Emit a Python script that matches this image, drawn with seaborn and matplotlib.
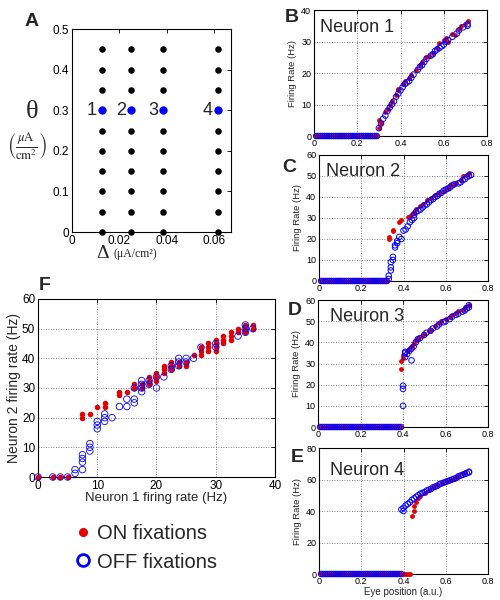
import matplotlib
matplotlib.use("Agg")
import matplotlib.pyplot as plt
from matplotlib.lines import Line2D
import seaborn as sns
import pandas as pd

sns.set_style("white")
plt.rcParams["font.family"] = ["Liberation Sans", "DejaVu Sans"]
plt.rcParams["mathtext.fontset"] = "stix"

RED = "#e50000"
BLUE = "#0000ff"

# ---- panel A: parameter grid (Delta, theta)
grid_delta = [0.0125, 0.025, 0.0385, 0.0615]
grid_theta = [0.0, 0.05, 0.1, 0.15, 0.2, 0.25, 0.35, 0.4, 0.45]
chosen_theta = 0.3
chosen_names = ["1", "2", "3", "4"]

# ---- panels B-E: firing rate vs eye position
zero_pos = [0.01, 0.02, 0.03, 0.04, 0.05, 0.06, 0.07, 0.08, 0.09, 0.10,
            0.11, 0.12, 0.13, 0.14, 0.15, 0.16, 0.17, 0.18, 0.19, 0.20,
            0.21, 0.22, 0.23, 0.24, 0.25, 0.26, 0.27, 0.28, 0.29, 0.30,
            0.31, 0.32, 0.33, 0.34, 0.35, 0.36, 0.37, 0.38, 0.39, 0.40,
            0.41, 0.42, 0.43]

n1_on_zero_end, n1_off_zero_end = 0.29, 0.29
n1_on_x = [0.30, 0.30, 0.31, 0.33, 0.34, 0.35, 0.36, 0.38, 0.39, 0.39, 0.41, 0.42, 0.44, 0.45,
           0.47, 0.49, 0.50, 0.52, 0.53, 0.55, 0.57, 0.58, 0.60, 0.61, 0.62, 0.64, 0.65, 0.67,
           0.68, 0.70, 0.71]
n1_on_y = [2.5, 5, 4, 7.5, 8.5, 10, 11, 13, 14.5, 15, 16.5, 17.5, 18.5, 19.5,
           21, 22.5, 23.5, 25, 25.5, 26.5, 28, 29.5, 30.5, 31, 30, 32.5, 32, 34,
           35, 35.5, 36.5]
n1_off_x = [0.30, 0.31, 0.32, 0.33, 0.34, 0.35, 0.36, 0.37, 0.38, 0.39, 0.40, 0.41, 0.42, 0.43,
            0.44, 0.45, 0.46, 0.48, 0.49, 0.50, 0.51, 0.52, 0.54, 0.55, 0.56, 0.57, 0.58, 0.59,
            0.60, 0.61, 0.62, 0.64, 0.66, 0.67, 0.69, 0.71, 0.71]
n1_off_y = [2.5, 4, 5.5, 6.5, 8, 9, 10, 11, 12.5, 13.5, 14.5, 15.5, 16.5, 17,
            17.5, 18.5, 19.5, 21, 22, 22.5, 23.5, 24.5, 25.5, 26, 27, 27.5, 28, 28.5,
            29, 30, 30.5, 31.5, 32.5, 33.5, 34.5, 35, 35.5]

n2_on_zero_end, n2_off_zero_end = 0.32, 0.32
n2_on_x = [0.33, 0.33, 0.35, 0.35, 0.38, 0.39, 0.42, 0.43, 0.44, 0.45, 0.46, 0.48, 0.49,
           0.51, 0.53, 0.55, 0.57, 0.59, 0.61, 0.62, 0.64, 0.65, 0.67, 0.68, 0.70, 0.71]
n2_on_y = [20, 21, 24, 24.5, 28, 29, 30.5, 31, 32, 33, 34.5, 35.5, 36.5,
           38.5, 39.5, 41, 42, 43, 44.5, 45.5, 46, 46.5, 48, 50, 50.5, 51.5]
n2_off_x = [0.33, 0.33, 0.34, 0.34, 0.34, 0.35, 0.35, 0.36, 0.36, 0.37, 0.37, 0.38, 0.39,
            0.40, 0.41, 0.42, 0.43, 0.44, 0.45, 0.45, 0.46, 0.47, 0.48, 0.49, 0.50, 0.51,
            0.52, 0.53, 0.54, 0.55, 0.56, 0.57, 0.58, 0.59, 0.60, 0.61, 0.62, 0.63, 0.64,
            0.66, 0.67, 0.68, 0.69, 0.70, 0.71, 0.72]
n2_off_y = [1, 2.5, 5, 6.5, 9, 10, 11.5, 16, 17, 18, 19, 21, 20,
            24, 24.5, 26, 28, 29, 30, 31.5, 33, 33.5, 34, 35, 36, 36.5,
            37.5, 38.5, 39, 40, 40.5, 41.5, 42, 43, 43.5, 44, 44.5, 45.5, 46,
            46.5, 47, 48, 48.5, 49.5, 50, 50.5]

n3_on_zero_end, n3_off_zero_end = 0.39, 0.39
n3_on_x = [0.39, 0.39, 0.40, 0.40, 0.42, 0.43, 0.44, 0.45, 0.46, 0.47, 0.49, 0.50, 0.52,
           0.53, 0.55, 0.57, 0.58, 0.60, 0.62, 0.63, 0.65, 0.66, 0.68, 0.69, 0.71]
n3_on_y = [27.5, 31, 32.5, 34, 36, 37, 38.5, 39.5, 41, 42, 43, 44, 45.5,
           46, 47.5, 49, 50, 51, 52, 53, 54, 55, 55.5, 56.5, 57.5]
n3_off_x = [0.40, 0.40, 0.40, 0.41, 0.41, 0.41, 0.42, 0.43, 0.44, 0.44, 0.45, 0.46, 0.47,
            0.48, 0.50, 0.51, 0.53, 0.54, 0.56, 0.57, 0.59, 0.60, 0.62, 0.63, 0.65, 0.66,
            0.68, 0.69, 0.70, 0.71, 0.71]
n3_off_y = [10, 18, 19.5, 33, 35, 35.5, 34.5, 36, 31.5, 37, 38, 40, 41.5,
            42, 43.5, 44.5, 45.5, 46.5, 47.5, 48.5, 49.5, 50, 51, 52, 53, 53.5,
            54.5, 55, 56, 56.5, 57.5]

n4_on_zero_end, n4_off_zero_end = 0.43, 0.39
n4_on_x = [0.44, 0.45, 0.45, 0.46, 0.47, 0.48, 0.50, 0.52, 0.54, 0.56, 0.58, 0.60, 0.62,
           0.64, 0.65, 0.66, 0.68, 0.69]
n4_on_y = [37, 40, 43, 46, 48, 49.5, 51.5, 53.5, 55, 56.5, 58, 59, 60,
           60.5, 61, 62, 64, 64.5]
n4_off_x = [0.39, 0.40, 0.40, 0.41, 0.42, 0.43, 0.44, 0.45, 0.46, 0.47, 0.48, 0.49, 0.50,
            0.51, 0.52, 0.53, 0.54, 0.55, 0.56, 0.57, 0.58, 0.59, 0.60, 0.61, 0.62, 0.63,
            0.64, 0.65, 0.66, 0.67, 0.68, 0.69, 0.70, 0.71, 0.71]
n4_off_y = [41, 40, 42, 43.5, 44.5, 45.5, 47, 48, 49, 50, 51, 51.5, 52,
            53, 53.5, 54, 55, 55.5, 56, 57, 57.5, 58, 58.5, 59, 59.5, 60,
            60.5, 61, 62, 62.5, 63, 63.5, 64, 64.5, 65]

# ---- panel F: neuron 2 vs neuron 1 firing rate
f_on_n1 = [0, 2.5, 3.75, 5, 7.5, 7.5, 8.75, 10, 11.25, 11.25, 13.75, 13.75, 15, 16.25, 16.25,
           17.5, 17.5, 18.75, 18.75, 18.75, 20, 20, 20, 21.25, 21.25, 21.25, 22.5, 22.5, 22.5,
           23.75, 23.75, 25, 25, 26.25, 27.5, 27.5, 27.5, 28.75, 28.75, 28.75, 30, 30, 30, 30,
           31.25, 31.25, 31.25, 32.5, 32.5, 32.5, 33.75, 33.75, 35, 35, 35, 36.25, 36.25]
f_on_n2 = [0, 0, 0, 0, 20, 21.25, 21.25, 23.75, 25, 23.75, 28.75, 27.5, 28.75, 31.25, 30,
           31.25, 30, 33.75, 32.5, 31.25, 35, 33.75, 32.5, 37.5, 36.25, 35, 38.75, 37.5, 36.25,
           38.75, 37.5, 38.75, 37.5, 41.25, 43.75, 42.5, 41.25, 45, 43.75, 42.5, 46.25, 45, 43.75, 42.5,
           47.5, 46.25, 45, 48.75, 47.5, 46.25, 50, 48.75, 51.25, 50, 48.75, 51.25, 50]
f_off_n1 = [0, 2.5, 3.75, 5, 6.25, 6.25, 7.5, 7.5, 7.5, 7.5, 8.75, 8.75, 8.75, 10, 10, 10,
            11.25, 11.25, 11.25, 12.5, 13.75, 15, 15, 16.25, 16.25, 16.25, 17.5, 17.5, 17.5, 17.5,
            18.75, 18.75, 20, 20, 21.25, 22.5, 22.5, 23.75, 23.75, 23.75, 25, 25, 26.25, 27.5,
            30, 30, 33.75, 35, 35, 35, 36.25]
f_off_n2 = [0, 0, 0, 0, 1.25, 2.5, 7.5, 6.25, 5, 2.5, 11.25, 10, 8.75, 18.75, 17.5, 16.25,
            21.25, 20, 18.75, 20, 23.75, 26.25, 23.75, 26.25, 25, 30, 32.5, 31.25, 30, 28.75,
            32.5, 31.25, 30, 33.75, 33.75, 37.5, 36.25, 40, 38.75, 37.5, 40, 38.75, 40, 43.75,
            45, 43.75, 47.5, 51.25, 50, 48.75, 50]

eye_ticks = [0, 0.2, 0.4, 0.6, 0.8]
eye_ticklabels = ["0", "0.2", "0.4", "0.6", "0.8"]


def matlab_axes(ax, labelsize, grid=True):
    ax.tick_params(direction="in", top=True, right=True, length=3, width=0.6,
                   labelsize=labelsize, pad=2, colors="black")
    for sp in ax.spines.values():
        sp.set_visible(True)
        sp.set_color("black")
        sp.set_linewidth(0.8)
    if grid:
        ax.grid(True, linestyle=(0, (1, 2)), color="0.35", linewidth=0.6)
    ax.set_axisbelow(True)


def draw_rates(ax, on_x, on_y, off_x, off_y, on_end, off_end):
    z_on = [p for p in zero_pos if p <= on_end]
    z_off = [p for p in zero_pos if p <= off_end]
    on = pd.DataFrame({"eye": z_on + on_x, "rate": [0.0] * len(z_on) + on_y})
    off = pd.DataFrame({"eye": z_off + off_x, "rate": [0.0] * len(z_off) + off_y})
    sns.scatterplot(data=on, x="eye", y="rate", ax=ax, color=RED, s=12, linewidth=0,
                    clip_on=False, zorder=3)
    sns.scatterplot(data=off, x="eye", y="rate", ax=ax, fc="none", ec=BLUE, s=16,
                    linewidth=0.7, clip_on=False, zorder=4)
    ax.set_xlim(0, 0.8)
    ax.set_xticks(eye_ticks)
    ax.set_xticklabels(eye_ticklabels)
    ax.set_xlabel("")
    ax.set_ylabel("Firing Rate (Hz)", fontsize=6.8, labelpad=3)
    matlab_axes(ax, 6.5)


fig = plt.figure(figsize=(5, 6), dpi=100)

# ---- A
ax_a = fig.add_axes([0.144, 0.6133, 0.318, 0.3383])
grid_df = pd.DataFrame([(d, t) for d in grid_delta for t in grid_theta], columns=["delta", "theta"])
chosen_df = pd.DataFrame({"delta": grid_delta, "theta": [chosen_theta] * len(grid_delta)})
sns.scatterplot(data=grid_df, x="delta", y="theta", ax=ax_a, color="black", s=22,
                linewidth=0, clip_on=False, zorder=3)
sns.scatterplot(data=chosen_df, x="delta", y="theta", ax=ax_a, color=BLUE, s=36,
                linewidth=0, clip_on=False, zorder=3)
for d, name in zip(grid_delta, chosen_names):
    ax_a.annotate(name, (d, chosen_theta), xytext=(-3.5, 0), textcoords="offset points",
                  ha="right", va="center", fontsize=13)
ax_a.set_xlim(0, 0.0672)
ax_a.set_ylim(0, 0.5)
ax_a.set_xticks([0, 0.02, 0.04, 0.06])
ax_a.set_xticklabels(["0", "0.02", "0.04", "0.06"])
ax_a.set_yticks([0, 0.1, 0.2, 0.3, 0.4, 0.5])
ax_a.set_yticklabels(["0", "0.1", "0.2", "0.3", "0.4", "0.5"])
ax_a.set_xlabel("")
ax_a.set_ylabel("")
matlab_axes(ax_a, 8.5, grid=False)

fig.text(0.064, 0.8133, "θ", family="Liberation Serif", fontsize=19, ha="center", va="center")
fig.text(0.054, 0.755, r"$\left(\frac{\mu\mathrm{A}}{\mathrm{cm}^2}\right)$", fontsize=13,
         ha="center", va="center")
fig.text(0.205, 1 - 254 / 600, "Δ", family="Liberation Serif", fontsize=14, ha="center", va="center")
fig.text(0.226, 1 - 254 / 600, "(μA/cm²)", family="Liberation Serif", fontsize=8.5,
         ha="left", va="center")

# ---- B-E
ax_b = fig.add_axes([0.628, 0.7733, 0.346, 0.21])
draw_rates(ax_b, n1_on_x, n1_on_y, n1_off_x, n1_off_y, n1_on_zero_end, n1_off_zero_end)
ax_b.set_ylim(0, 40)
ax_b.set_yticks([0, 10, 20, 30, 40])

ax_c = fig.add_axes([0.638, 0.5317, 0.338, 0.21])
draw_rates(ax_c, n2_on_x, n2_on_y, n2_off_x, n2_off_y, n2_on_zero_end, n2_off_zero_end)
ax_c.set_ylim(0, 60)
ax_c.set_yticks([0, 10, 20, 30, 40, 50, 60])

ax_d = fig.add_axes([0.636, 0.2883, 0.34, 0.2117])
draw_rates(ax_d, n3_on_x, n3_on_y, n3_off_x, n3_off_y, n3_on_zero_end, n3_off_zero_end)
ax_d.set_ylim(0, 60)
ax_d.set_yticks([0, 10, 20, 30, 40, 50, 60])

ax_e = fig.add_axes([0.638, 0.0433, 0.338, 0.21])
draw_rates(ax_e, n4_on_x, n4_on_y, n4_off_x, n4_off_y, n4_on_zero_end, n4_off_zero_end)
ax_e.set_ylim(0, 80)
ax_e.set_yticks([0, 20, 40, 60, 80])
ax_e.set_xlabel("Eye position (a.u.)", fontsize=7, labelpad=1)

for ax, name, pos in [(ax_b, "Neuron 1", (0.035, 0.865)), (ax_c, "Neuron 2", (0.04, 0.867)),
                      (ax_d, "Neuron 3", (0.07, 0.874)), (ax_e, "Neuron 4", (0.065, 0.825))]:
    ax.text(pos[0], pos[1], name, transform=ax.transAxes, fontsize=13, ha="left", va="center")

# ---- F
ax_f = fig.add_axes([0.076, 0.205, 0.474, 0.2967])
f_on = pd.DataFrame({"n1": f_on_n1, "n2": f_on_n2})
f_off = pd.DataFrame({"n1": f_off_n1, "n2": f_off_n2})
sns.scatterplot(data=f_on, x="n1", y="n2", ax=ax_f, color=RED, s=16, linewidth=0,
                clip_on=False, zorder=3)
sns.scatterplot(data=f_off, x="n1", y="n2", ax=ax_f, fc="none", ec=BLUE, s=22,
                linewidth=0.6, clip_on=False, zorder=4)
ax_f.set_xlim(0, 40)
ax_f.set_ylim(0, 60)
ax_f.set_xticks([0, 10, 20, 30, 40])
ax_f.set_yticks([0, 10, 20, 30, 40, 50, 60])
ax_f.set_xlabel("Neuron 1 firing rate (Hz)", fontsize=9.5, labelpad=0)
ax_f.set_ylabel("Neuron 2 firing rate (Hz)", fontsize=10, labelpad=1)
matlab_axes(ax_f, 8.5)

handles = [Line2D([], [], marker="o", ls="", color=RED, markersize=5.5),
           Line2D([], [], marker="o", ls="", mfc="none", mec=BLUE, mew=2, markersize=8.5)]
fig.legend(handles, ["ON fixations", "OFF fixations"], loc="center left",
           bbox_to_anchor=(0.15, 1 - 548 / 600), frameon=False, fontsize=14.5,
           handlelength=0.8, handletextpad=0.3, labelspacing=0.45, borderpad=0,
           borderaxespad=0)

# panel letters
for letter, (px, py) in {"A": (32, 22), "B": (292, 18), "C": (289, 168), "D": (295, 310),
                         "E": (297, 458), "F": (45, 285)}.items():
    fig.text(px / 500, 1 - py / 600, letter, fontsize=14, fontweight="bold",
             ha="center", va="center")

fig.savefig("out.png", dpi=100)
